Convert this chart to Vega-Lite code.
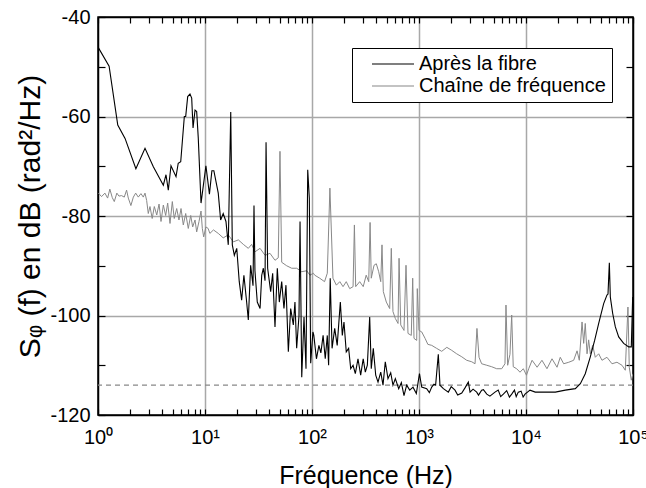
{
  "$schema": "https://vega.github.io/schema/vega-lite/v6.json",
  "width": 535,
  "height": 398,
  "autosize": {"type": "none"},
  "padding": {"left": 98, "top": 17, "right": 13, "bottom": 73},
  "background": "white",
  "config": {
    "font": "Liberation Sans",
    "view": {"stroke": "black", "strokeWidth": 1.5},
    "axis": {
      "labelColor": "black", "titleColor": "black", "labelFontSize": 20, "titleFontSize": 25,
      "titleFontWeight": "normal", "tickColor": "black", "domainColor": "black", "domainWidth": 1.5,
      "tickWidth": 1.2, "gridColor": "#a8a8a8", "gridWidth": 1.5, "labelOverlap": false, "labelFlush": false
    }
  },
  "resolve": {"axis": {"x": "independent", "y": "independent"}},
  "layer": [
    {
      "data": {"values": [{}]},
      "mark": {"type": "rule", "stroke": "#888888", "strokeDash": [5, 4], "strokeWidth": 1.3},
      "encoding": {
        "y": {"datum": -114, "type": "quantitative", "scale": {"domain": [-120, -40], "nice": false, "zero": false}, "axis": null}
      }
    },
    {
      "data": {"values": [
        {"f": 1.01, "db": -75.4}, {"f": 1.08, "db": -76.1}, {"f": 1.16, "db": -75.4}, {"f": 1.23, "db": -76.4},
        {"f": 1.29, "db": -74.6}, {"f": 1.36, "db": -76.3}, {"f": 1.42, "db": -77.1}, {"f": 1.5, "db": -75.4},
        {"f": 1.57, "db": -76.0}, {"f": 1.66, "db": -75.9}, {"f": 1.76, "db": -76.2}, {"f": 1.85, "db": -74.8},
        {"f": 1.92, "db": -76.4}, {"f": 2.03, "db": -77.9}, {"f": 2.14, "db": -76.2}, {"f": 2.25, "db": -75.4},
        {"f": 2.38, "db": -76.2}, {"f": 2.52, "db": -75.5}, {"f": 2.65, "db": -76.2}, {"f": 2.75, "db": -75.4},
        {"f": 2.85, "db": -76.9}, {"f": 2.95, "db": -79.5}, {"f": 3.06, "db": -78.1}, {"f": 3.21, "db": -80.5},
        {"f": 3.36, "db": -78.1}, {"f": 3.54, "db": -79.8}, {"f": 3.72, "db": -77.6}, {"f": 3.88, "db": -81.1},
        {"f": 4.08, "db": -77.8}, {"f": 4.29, "db": -79.9}, {"f": 4.48, "db": -77.4}, {"f": 4.71, "db": -81.5},
        {"f": 4.95, "db": -77.1}, {"f": 5.16, "db": -80.5}, {"f": 5.44, "db": -78.5}, {"f": 5.71, "db": -80.8},
        {"f": 5.97, "db": -78.5}, {"f": 6.27, "db": -81.8}, {"f": 6.6, "db": -79.5}, {"f": 6.98, "db": -82.5},
        {"f": 7.35, "db": -79.9}, {"f": 7.67, "db": -82.2}, {"f": 8.07, "db": -80.8}, {"f": 8.36, "db": -83.2},
        {"f": 8.79, "db": -81.1}, {"f": 9.18, "db": -79.0}, {"f": 9.44, "db": -82.5}, {"f": 9.72, "db": -84.2},
        {"f": 10.2, "db": -82.2}, {"f": 10.7, "db": -82.5}, {"f": 11.1, "db": -83.5}, {"f": 12.0, "db": -82.8},
        {"f": 13.3, "db": -83.5}, {"f": 14.8, "db": -84.4}, {"f": 16.5, "db": -83.8}, {"f": 18.4, "db": -85.2},
        {"f": 20.5, "db": -84.8}, {"f": 22.8, "db": -85.7}, {"f": 25.4, "db": -86.5}, {"f": 27.3, "db": -85.7},
        {"f": 29.3, "db": -87.2}, {"f": 32.7, "db": -86.5}, {"f": 36.4, "db": -87.9}, {"f": 40.5, "db": -87.5},
        {"f": 45.1, "db": -88.9}, {"f": 48.4, "db": -88.4}, {"f": 50.2, "db": -67.0}, {"f": 52.1, "db": -89.3},
        {"f": 58.0, "db": -90.0}, {"f": 64.6, "db": -90.5}, {"f": 71.9, "db": -90.5}, {"f": 80.2, "db": -91.2},
        {"f": 89.2, "db": -91.0}, {"f": 95.7, "db": -91.9}, {"f": 103, "db": -91.5}, {"f": 106, "db": -91.9},
        {"f": 118, "db": -92.5}, {"f": 131, "db": -93.2}, {"f": 139, "db": -91.5}, {"f": 147, "db": -74.4},
        {"f": 157, "db": -92.5}, {"f": 169, "db": -93.9}, {"f": 182, "db": -93.2}, {"f": 195, "db": -94.2},
        {"f": 209, "db": -93.2}, {"f": 225, "db": -94.6}, {"f": 242, "db": -94.2}, {"f": 249, "db": -81.8},
        {"f": 256, "db": -94.2}, {"f": 279, "db": -93.2}, {"f": 301, "db": -94.2}, {"f": 321, "db": -91.9},
        {"f": 339, "db": -93.2}, {"f": 349, "db": -81.3}, {"f": 358, "db": -92.5}, {"f": 380, "db": -89.9},
        {"f": 399, "db": -89.6}, {"f": 420, "db": -91.2}, {"f": 439, "db": -93.2}, {"f": 451, "db": -85.8},
        {"f": 464, "db": -95.2}, {"f": 495, "db": -97.3}, {"f": 532, "db": -98.6}, {"f": 551, "db": -86.5},
        {"f": 571, "db": -99.2}, {"f": 601, "db": -100.6}, {"f": 637, "db": -101.6}, {"f": 651, "db": -88.5},
        {"f": 675, "db": -101.9}, {"f": 724, "db": -103.0}, {"f": 756, "db": -89.9}, {"f": 789, "db": -103.6},
        {"f": 847, "db": -104.0}, {"f": 873, "db": -92.5}, {"f": 898, "db": -104.6}, {"f": 952, "db": -105.0},
        {"f": 964, "db": -94.6}, {"f": 1000, "db": -103.0}, {"f": 1060, "db": -103.3}, {"f": 1140, "db": -104.6},
        {"f": 1210, "db": -105.8}, {"f": 1315, "db": -106.0}, {"f": 1460, "db": -106.6}, {"f": 1630, "db": -107.2},
        {"f": 1820, "db": -106.4}, {"f": 2020, "db": -107.0}, {"f": 2250, "db": -107.7}, {"f": 2510, "db": -108.3},
        {"f": 2790, "db": -109.0}, {"f": 3110, "db": -109.3}, {"f": 3340, "db": -109.7}, {"f": 3480, "db": -102.6},
        {"f": 3640, "db": -108.4}, {"f": 3850, "db": -109.7}, {"f": 4300, "db": -110.0}, {"f": 4780, "db": -110.3},
        {"f": 5320, "db": -110.7}, {"f": 5930, "db": -110.7}, {"f": 6360, "db": -109.7}, {"f": 6500, "db": -97.9},
        {"f": 6740, "db": -110.0}, {"f": 7080, "db": -107.8}, {"f": 7350, "db": -99.9}, {"f": 7600, "db": -110.3},
        {"f": 8180, "db": -110.7}, {"f": 8790, "db": -111.4}, {"f": 9440, "db": -110.7}, {"f": 10100, "db": -112.0},
        {"f": 10600, "db": -110.7}, {"f": 11400, "db": -109.0}, {"f": 12700, "db": -110.4}, {"f": 14100, "db": -109.0},
        {"f": 15700, "db": -110.7}, {"f": 17500, "db": -108.7}, {"f": 19500, "db": -110.4}, {"f": 20900, "db": -108.4},
        {"f": 22500, "db": -109.7}, {"f": 25100, "db": -109.4}, {"f": 27900, "db": -109.0}, {"f": 30000, "db": -107.1},
        {"f": 31500, "db": -109.0}, {"f": 33400, "db": -101.3}, {"f": 34600, "db": -105.6}, {"f": 35800, "db": -101.6},
        {"f": 37200, "db": -107.7}, {"f": 38500, "db": -104.9}, {"f": 39900, "db": -107.7}, {"f": 42000, "db": -106.0},
        {"f": 44400, "db": -108.4}, {"f": 47800, "db": -107.7}, {"f": 51300, "db": -109.0}, {"f": 57100, "db": -108.4},
        {"f": 63600, "db": -109.7}, {"f": 70800, "db": -109.4}, {"f": 78900, "db": -110.0}, {"f": 84700, "db": -111.0},
        {"f": 89700, "db": -98.3}, {"f": 92300, "db": -110.4}, {"f": 96400, "db": -113.0}, {"f": 100000, "db": -111.7}
      ]},
      "mark": {"type": "line", "strokeWidth": 1, "clip": true},
      "encoding": {
        "x": {
          "field": "f", "type": "quantitative",
          "scale": {"type": "log", "domain": [1, 100000], "nice": false},
          "axis": {
            "orient": "bottom", "title": "Fréquence (Hz)", "titlePadding": 16,
            "values": [1,2,3,4,5,6,7,8,9,10,20,30,40,50,60,70,80,90,100,200,300,400,500,600,700,800,900,1000,2000,3000,4000,5000,6000,7000,8000,9000,10000,20000,30000,40000,50000,60000,70000,80000,90000,100000],
            "labelExpr": "indexof([1,10,100,1000,10000,100000], datum.value) >= 0 ? '10' + ['⁰','¹','²','³','⁴','⁵'][indexof([1,10,100,1000,10000,100000], datum.value)] : ''",
            "grid": true,
            "gridOpacity": {"condition": {"test": "indexof([10,100,1000,10000], datum.value) >= 0", "value": 1}, "value": 0},
            "tickSize": -6, "labelPadding": 18
          }
        },
        "y": {
          "field": "db", "type": "quantitative",
          "scale": {"domain": [-120, -40], "nice": false, "zero": false},
          "axis": {
            "orient": "left", "title": "Sᵩ (f) en dB (rad²/Hz)", "titlePadding": 4, "titleFontSize": 30,
            "values": [-120,-110,-100,-90,-80,-70,-60,-50,-40],
            "labelExpr": "datum.value % 20 == 0 ? '' + datum.value : ''",
            "grid": true,
            "gridOpacity": {"condition": {"test": "datum.value == -60 || datum.value == -80 || datum.value == -100", "value": 1}, "value": 0},
            "tickSize": -7, "labelPadding": 15
          }
        },
        "color": {
          "datum": "Chaîne de fréquence",
          "scale": {"domain": ["Après la fibre", "Chaîne de fréquence"], "range": ["#000000", "#888888"]},
          "legend": {
            "orient": "none", "legendX": 254, "legendY": 31, "title": null,
            "strokeColor": "black", "fillColor": "white", "padding": 6,
            "labelFontSize": 20, "labelColor": "black", "labelLimit": 400, "symbolType": "M-3,0H3", "symbolSize": 196,
            "symbolStrokeWidth": 1.2, "symbolOffset": 25, "labelOffset": 16, "rowPadding": 2, "cornerRadius": 0
          }
        }
      }
    },
    {
      "data": {"values": [
        {"f": 1.01, "db": -46.2}, {"f": 1.27, "db": -49.9}, {"f": 1.53, "db": -61.7}, {"f": 1.79, "db": -64.4},
        {"f": 2.26, "db": -70.5}, {"f": 2.75, "db": -66.4}, {"f": 3.29, "db": -70.1}, {"f": 4.08, "db": -73.8},
        {"f": 4.32, "db": -71.7}, {"f": 4.54, "db": -74.8}, {"f": 4.81, "db": -69.9}, {"f": 5.36, "db": -72.1},
        {"f": 5.62, "db": -69.4}, {"f": 5.93, "db": -69.1}, {"f": 6.41, "db": -60.0}, {"f": 6.6, "db": -60.0},
        {"f": 6.89, "db": -56.0}, {"f": 7.24, "db": -55.5}, {"f": 7.51, "db": -56.3}, {"f": 7.73, "db": -62.3},
        {"f": 8.07, "db": -58.7}, {"f": 8.36, "db": -59.0}, {"f": 8.65, "db": -64.3}, {"f": 9.18, "db": -77.4},
        {"f": 9.58, "db": -74.4}, {"f": 10.2, "db": -69.9}, {"f": 11.0, "db": -75.6}, {"f": 11.6, "db": -70.9},
        {"f": 12.1, "db": -70.9}, {"f": 13.3, "db": -75.4}, {"f": 14.0, "db": -80.8}, {"f": 14.8, "db": -79.5},
        {"f": 15.7, "db": -81.1}, {"f": 16.5, "db": -85.8}, {"f": 17.4, "db": -59.1}, {"f": 18.0, "db": -85.8},
        {"f": 18.8, "db": -87.9}, {"f": 19.8, "db": -86.5}, {"f": 20.9, "db": -93.2}, {"f": 22.0, "db": -96.9},
        {"f": 23.1, "db": -91.9}, {"f": 24.5, "db": -97.3}, {"f": 25.4, "db": -100.9}, {"f": 26.7, "db": -89.9},
        {"f": 28.1, "db": -94.0}, {"f": 28.7, "db": -77.9}, {"f": 29.3, "db": -91.0}, {"f": 30.8, "db": -97.3},
        {"f": 32.7, "db": -98.6}, {"f": 33.9, "db": -91.9}, {"f": 35.1, "db": -90.5}, {"f": 36.4, "db": -93.0},
        {"f": 37.2, "db": -65.2}, {"f": 38.5, "db": -90.5}, {"f": 41.1, "db": -95.2}, {"f": 42.9, "db": -91.5},
        {"f": 45.1, "db": -102.3}, {"f": 47.4, "db": -90.5}, {"f": 49.5, "db": -97.3}, {"f": 52.1, "db": -93.2},
        {"f": 54.7, "db": -98.6}, {"f": 57.1, "db": -93.9}, {"f": 60.1, "db": -107.3}, {"f": 63.2, "db": -98.6},
        {"f": 66.9, "db": -101.9}, {"f": 69.3, "db": -97.3}, {"f": 71.9, "db": -106.6}, {"f": 75.6, "db": -100.0},
        {"f": 77.3, "db": -81.1}, {"f": 80.2, "db": -112.4}, {"f": 84.2, "db": -100.3}, {"f": 87.9, "db": -110.7},
        {"f": 91.2, "db": -70.7}, {"f": 94.4, "db": -76.4}, {"f": 97.2, "db": -109.6}, {"f": 102, "db": -103.3},
        {"f": 104, "db": -104.0}, {"f": 110, "db": -108.7}, {"f": 116, "db": -106.0}, {"f": 121, "db": -107.5},
        {"f": 127, "db": -104.0}, {"f": 133, "db": -108.7}, {"f": 139, "db": -104.0}, {"f": 143, "db": -110.0},
        {"f": 148, "db": -92.5}, {"f": 154, "db": -106.6}, {"f": 163, "db": -102.6}, {"f": 172, "db": -106.0},
        {"f": 184, "db": -97.3}, {"f": 192, "db": -104.0}, {"f": 199, "db": -101.3}, {"f": 209, "db": -107.3},
        {"f": 220, "db": -106.6}, {"f": 230, "db": -110.7}, {"f": 242, "db": -110.0}, {"f": 254, "db": -111.7},
        {"f": 269, "db": -108.7}, {"f": 285, "db": -112.0}, {"f": 301, "db": -108.7}, {"f": 315, "db": -111.4},
        {"f": 329, "db": -110.0}, {"f": 346, "db": -100.3}, {"f": 358, "db": -110.7}, {"f": 374, "db": -106.6},
        {"f": 394, "db": -112.0}, {"f": 414, "db": -113.4}, {"f": 439, "db": -111.4}, {"f": 461, "db": -114.0},
        {"f": 484, "db": -109.3}, {"f": 513, "db": -112.7}, {"f": 544, "db": -111.5}, {"f": 571, "db": -114.0},
        {"f": 601, "db": -112.7}, {"f": 646, "db": -114.7}, {"f": 684, "db": -113.5}, {"f": 724, "db": -116.1},
        {"f": 767, "db": -114.0}, {"f": 819, "db": -115.0}, {"f": 879, "db": -114.4}, {"f": 944, "db": -115.7},
        {"f": 1010, "db": -111.7}, {"f": 1060, "db": -114.4}, {"f": 1180, "db": -114.7}, {"f": 1250, "db": -115.5},
        {"f": 1315, "db": -114.4}, {"f": 1380, "db": -113.8}, {"f": 1430, "db": -114.0}, {"f": 1515, "db": -107.8},
        {"f": 1570, "db": -114.0}, {"f": 1690, "db": -114.7}, {"f": 1880, "db": -115.4}, {"f": 2000, "db": -114.3},
        {"f": 2170, "db": -115.0}, {"f": 2300, "db": -116.0}, {"f": 2510, "db": -115.6}, {"f": 2700, "db": -114.5},
        {"f": 2890, "db": -113.4}, {"f": 3000, "db": -115.4}, {"f": 3200, "db": -114.8}, {"f": 3460, "db": -115.4},
        {"f": 3600, "db": -116.0}, {"f": 3850, "db": -115.0}, {"f": 4000, "db": -114.9}, {"f": 4300, "db": -115.8},
        {"f": 4600, "db": -116.2}, {"f": 5130, "db": -115.4}, {"f": 5500, "db": -115.0}, {"f": 5800, "db": -116.3},
        {"f": 6140, "db": -115.8}, {"f": 6600, "db": -115.1}, {"f": 7000, "db": -116.4}, {"f": 7350, "db": -115.8},
        {"f": 7800, "db": -115.0}, {"f": 8100, "db": -116.3}, {"f": 8470, "db": -115.4}, {"f": 9000, "db": -115.2},
        {"f": 9400, "db": -116.4}, {"f": 9790, "db": -115.8}, {"f": 10900, "db": -115.0}, {"f": 12200, "db": -115.4},
        {"f": 15100, "db": -115.4}, {"f": 18800, "db": -115.4}, {"f": 23300, "db": -115.0}, {"f": 28900, "db": -114.7},
        {"f": 32200, "db": -113.7}, {"f": 35800, "db": -111.7}, {"f": 39900, "db": -108.3}, {"f": 43800, "db": -105.0},
        {"f": 47800, "db": -101.6}, {"f": 53200, "db": -97.6}, {"f": 57100, "db": -95.9}, {"f": 58400, "db": -95.7},
        {"f": 60100, "db": -89.4}, {"f": 61400, "db": -96.3}, {"f": 64600, "db": -99.6}, {"f": 68400, "db": -102.3},
        {"f": 73500, "db": -104.3}, {"f": 81800, "db": -105.6}, {"f": 91200, "db": -106.3}, {"f": 96400, "db": -106.3},
        {"f": 99300, "db": -96.3}
      ]},
      "mark": {"type": "line", "strokeWidth": 1.1, "clip": true},
      "encoding": {
        "x": {
          "field": "f", "type": "quantitative",
          "scale": {"type": "log", "domain": [1, 100000], "nice": false},
          "axis": {
            "orient": "top", "title": null, "labels": false, "grid": false, "tickSize": -6,
            "values": [1,2,3,4,5,6,7,8,9,10,20,30,40,50,60,70,80,90,100,200,300,400,500,600,700,800,900,1000,2000,3000,4000,5000,6000,7000,8000,9000,10000,20000,30000,40000,50000,60000,70000,80000,90000,100000]
          }
        },
        "y": {
          "field": "db", "type": "quantitative",
          "scale": {"domain": [-120, -40], "nice": false, "zero": false},
          "axis": {
            "orient": "right", "title": null, "labels": false, "grid": false, "tickSize": -7,
            "values": [-120,-110,-100,-90,-80,-70,-60,-50,-40]
          }
        },
        "color": {
          "datum": "Après la fibre",
          "scale": {"domain": ["Après la fibre", "Chaîne de fréquence"], "range": ["#000000", "#888888"]}
        }
      }
    }
  ]
}
